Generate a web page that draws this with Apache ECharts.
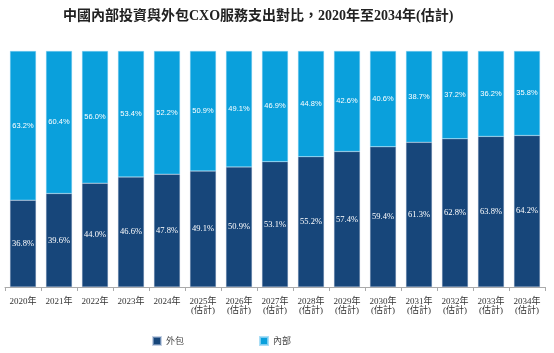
<!DOCTYPE html>
<html>
<head>
<meta charset="utf-8">
<script src="https://cdn.jsdelivr.net/npm/echarts@6/dist/echarts.min.js"></script>
<style>
  html, body { margin: 0; padding: 0; background: #fff; }
  #chart { width: 554px; height: 353px; }
</style>
</head>
<body>
<div id="chart"></div>
<script>
const years = ['2020年', '2021年', '2022年', '2023年', '2024年',
  '2025年\n(估計)', '2026年\n(估計)', '2027年\n(估計)', '2028年\n(估計)', '2029年\n(估計)',
  '2030年\n(估計)', '2031年\n(估計)', '2032年\n(估計)', '2033年\n(估計)', '2034年\n(估計)'];
const outsourced = [36.8, 39.6, 44.0, 46.6, 47.8, 49.1, 50.9, 53.1, 55.2, 57.4, 59.4, 61.3, 62.8, 63.8, 64.2];
const inhouse = [63.2, 60.4, 56.0, 53.4, 52.2, 50.9, 49.1, 46.9, 44.8, 42.6, 40.6, 38.7, 37.2, 36.2, 35.8];

const chart = echarts.init(document.getElementById('chart'));

const option = {
  animation: false,
  title: {
    text: '中國內部投資與外包CXO服務支出對比，2020年至2034年(估計)',
    left: 58,
    top: 4,
    textStyle: {
      fontFamily: '"Liberation Serif", "Noto Sans CJK TC", serif',
      fontSize: 14,
      fontWeight: 'bold',
      color: '#222'
    }
  },
  legend: {
    left: 152,
    top: 336,
    padding: 0,
    itemWidth: 8,
    itemHeight: 8,
    itemGap: 75,
    icon: 'rect',
    textStyle: {
      fontFamily: '"Noto Sans CJK TC", serif',
      fontSize: 9,
      color: '#444'
    },
    data: ['外包', '內部']
  },
  grid: {
    left: 5,
    right: 9,
    top: 51,
    bottom: 66,
    containLabel: false
  },
  xAxis: {
    type: 'category',
    data: years,
    axisLine: { lineStyle: { color: '#aaa' } },
    axisTick: { show: true, length: 4, lineStyle: { color: '#aaa' } },
    axisLabel: {
      interval: 0,
      margin: 10,
      fontFamily: '"Liberation Serif", "Noto Sans CJK TC", serif',
      fontSize: 9,
      lineHeight: 9,
      color: '#333'
    }
  },
  yAxis: {
    type: 'value',
    min: 0,
    max: 100,
    show: false
  },
  series: [
    {
      name: '外包',
      type: 'bar',
      stack: 'total',
      barWidth: 26,
      data: outsourced,
      itemStyle: { color: '#17467a', borderColor: 'rgba(160,180,210,0.6)', borderWidth: 0.5 },
      label: {
        show: true,
        position: 'inside',
        formatter: p => p.value.toFixed(1) + '%',
        fontFamily: '"Liberation Serif", serif',
        fontSize: 8.5,
        color: '#fff'
      }
    },
    {
      name: '內部',
      type: 'bar',
      stack: 'total',
      barWidth: 26,
      data: inhouse,
      itemStyle: { color: '#0aa0dc', borderColor: 'rgba(150,215,245,0.8)', borderWidth: 0.5 },
      label: {
        show: true,
        position: 'inside',
        formatter: p => p.value.toFixed(1) + '%',
        fontFamily: '"Liberation Sans", sans-serif',
        fontSize: 7.5,
        color: '#fff'
      }
    }
  ]
};

chart.setOption(option);
</script>
</body>
</html>
